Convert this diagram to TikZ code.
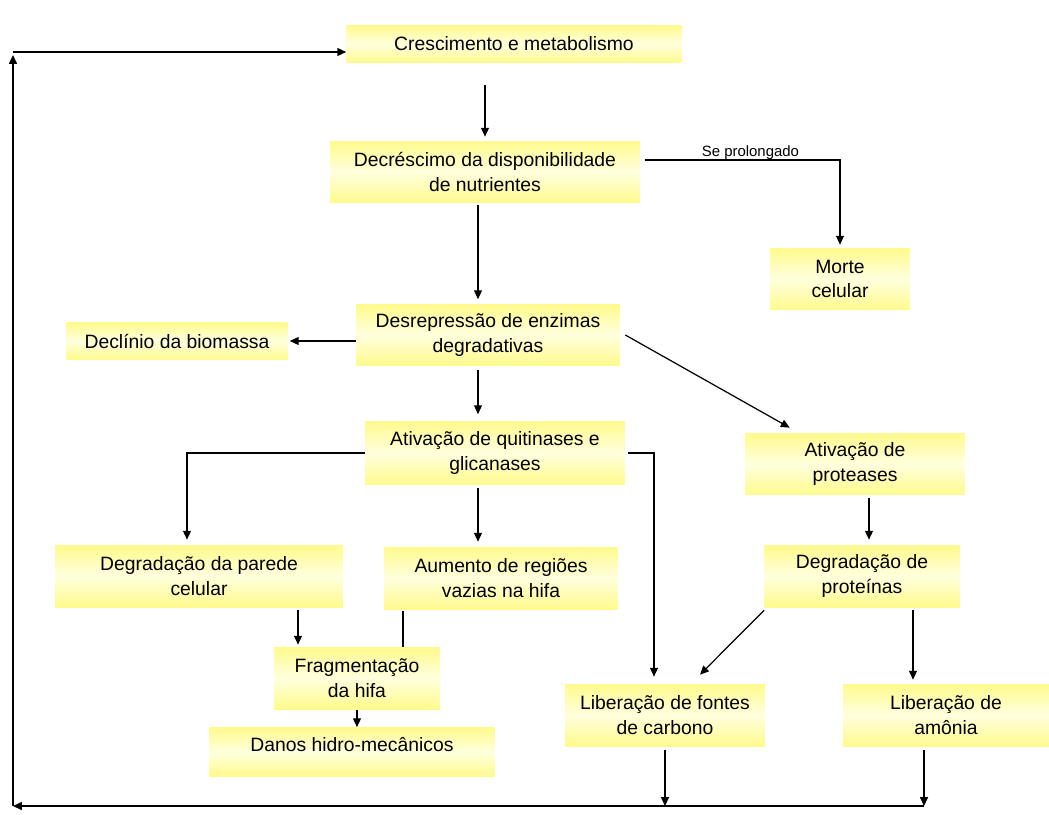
\documentclass[tikz,border=0pt]{standalone}
\usepackage{fontspec}
\setmainfont{Liberation Sans}
\usetikzlibrary{arrows.meta}
\definecolor{boxyellow}{RGB}{255,250,140}
\definecolor{boxpale}{RGB}{255,255,222}
\tikzset{
  box/.style={inner sep=1pt,align=center,minimum height=1.24cm,
    top color=boxyellow,bottom color=boxyellow,middle color=boxpale,
    font=\fontsize{11}{14}\selectfont},
  flow/.style={-{Triangle[length=5pt,width=4.5pt]},line width=0.7pt},
  link/.style={line width=0.7pt}
}
\begin{document}
\begin{tikzpicture}[x=0.02cm,y=-0.02cm]
\useasboundingbox (0,0) rectangle (1049,815);
\node[box,minimum width=6.7cm,minimum height=0.76cm] (Cresc) at (514,44) {Crescimento e metabolismo};
\node[box,minimum width=6.2cm] (Decr) at (485,172) {Decréscimo da disponibilidade\\de nutrientes};
\node[box,minimum width=2.8cm] (Morte) at (840,279) {Morte\\celular};
\node[box,minimum width=4.42cm,minimum height=0.74cm] (Declin) at (177,341) {Declínio da biomassa};
\node[box,minimum width=5.28cm,minimum height=1.22cm] (Desrep) at (488,335) {Desrepressão de enzimas\\degradativas};
\node[box,minimum width=5.2cm,minimum height=1.26cm] (AtivQ) at (495,453) {Ativação de quitinases e\\glicanases};
\node[box,minimum width=4.4cm] (AtivP) at (855,464) {Ativação de\\proteases};
\node[box,minimum width=5.76cm] (DegP) at (199,576) {Degradação da parede\\celular};
\node[box,minimum width=4.66cm] (Aument) at (501,578) {Aumento de regiões\\vazias na hifa};
\node[box,minimum width=3.9cm] (DegPr) at (862,576) {Degradação de\\proteínas};
\node[box,minimum width=3.32cm] (Frag) at (357,678) {Fragmentação\\da hifa};
\node[box,minimum width=5.7cm,minimum height=0.98cm,text depth=0.3cm] (Danos) at (352,752) {Danos hidro-mecânicos};
\node[box,minimum width=4cm] (LibC) at (665,715) {Liberação de fontes\\de carbono};
\node[box,minimum width=4.12cm] (LibA) at (946,715) {Liberação de\\amônia};
\coordinate (loopBL) at (13,806);
% main chain
\draw[flow,shorten <=0.44cm,shorten >=0.08cm] (Decr.north |- Cresc.south) -- (Decr.north);
\draw[flow,shorten <=0.04cm,shorten >=0.1cm] ([xshift=-0.2cm]Desrep.north |- Decr.south) -- ([xshift=-0.2cm]Desrep.north);
\draw[flow] ([xshift=0.1cm,yshift=0.24cm]Decr.east) -| node[pos=0.27,above,inner sep=1pt,yshift=-1pt,font=\fontsize{8.5}{10}\selectfont]{Se prolongado} ([yshift=0.06cm]Morte.north);
\draw[flow,shorten >=0.04cm] (Declin.east -| Desrep.west) -- (Declin.east);
\draw[flow,shorten <=0.08cm,shorten >=0.14cm] ([xshift=-0.2cm]Desrep.south) -- ([xshift=-0.2cm]Desrep.south |- AtivQ.north);
\draw[flow] ([xshift=0.1cm]Desrep.east) -- ([xshift=0.9cm,yshift=0.1cm]AtivP.north west);
% quitinases branch
\draw[flow] (AtivQ.west) -| ([xshift=-0.24cm,yshift=0.1cm]DegP.north);
\draw[flow,shorten <=0.06cm,shorten >=0.1cm] ([xshift=-0.34cm]AtivQ.south) -- ([xshift=-0.34cm]AtivQ.south |- Aument.north);
\draw[flow] ([xshift=0.06cm]AtivQ.east) -| ([xshift=-0.22cm,yshift=0.14cm]LibC.north);
\draw[flow,shorten <=0.06cm,shorten >=0.04cm] ([xshift=1.98cm]DegP.south) -- ([xshift=1.98cm]DegP.south |- Frag.north);
\draw[link,shorten <=0.04cm] ([xshift=-1.96cm]Aument.south) -- ([xshift=-1.96cm]Aument.south |- Frag.north);
\draw[flow,shorten <=0.02cm] (Frag.south) -- (Frag.south |- Danos.north);
% proteases branch
\draw[flow,shorten <=0.06cm,shorten >=0.1cm] ([xshift=0.28cm]AtivP.south) -- ([xshift=0.28cm]AtivP.south |- DegPr.north);
\draw[flow] ([yshift=-0.06cm]DegPr.south west) -- ([xshift=0.7cm,yshift=0.18cm]LibC.north);
\draw[flow,shorten <=0.06cm,shorten >=0.08cm] ([xshift=1.02cm]DegPr.south) -- ([xshift=1.02cm]DegPr.south |- LibA.north);
% feedback loop
\draw[flow,shorten <=0.08cm] (LibC.south) -- (LibC.south |- loopBL);
\draw[flow,shorten <=0.08cm] ([xshift=-0.44cm]LibA.south) -- ([xshift=-0.44cm]LibA.south |- loopBL);
\draw[flow] ([xshift=-0.44cm]LibA.south |- loopBL) -- (loopBL);
\draw[flow] (loopBL) -- ([yshift=-0.22cm]Cresc.west -| loopBL);
\draw[flow] ([yshift=-0.16cm]Cresc.west -| loopBL) -- ([yshift=-0.16cm]Cresc.west);
\end{tikzpicture}
\end{document}
